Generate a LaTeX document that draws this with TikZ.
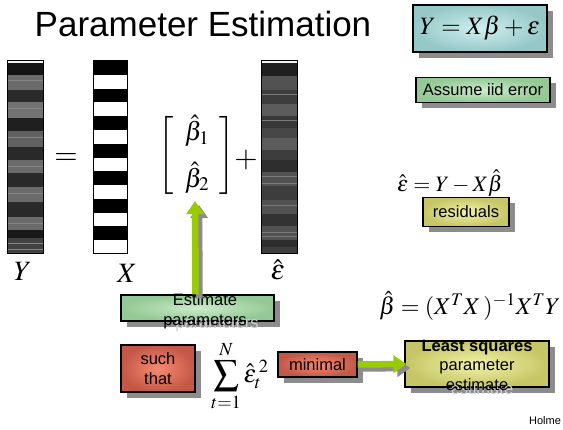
\documentclass[tikz,border=0pt]{standalone}
\usepackage{mathptmx}
\usepackage[no-math]{fontspec}
\setmainfont{Liberation Sans}
\usetikzlibrary{arrows.meta,shadows}
\definecolor{tealin}{HTML}{D0EFEF}
\definecolor{tealout}{HTML}{96C8C8}
\definecolor{grnin}{HTML}{CBEDCB}
\definecolor{grnout}{HTML}{94C894}
\definecolor{yelin}{HTML}{F2F2AA}
\definecolor{yelout}{HTML}{C6C666}
\definecolor{redin}{HTML}{F68A70}
\definecolor{redout}{HTML}{C45848}
\definecolor{limegreen}{HTML}{99CC00}

\begin{document}
\begin{tikzpicture}[x=1pt,y=-1pt,
      slidebox/.style={draw,line width=1.2pt,inner sep=0pt,
                 drop shadow={shadow xshift=6pt,shadow yshift=-6pt,
                              fill=black!45,opacity=1}},
      boxfill/.style 2 args={inner color=#1,outer color=#2},
      lbl/.style={font=\fontsize{16.5}{19.5}\selectfont,align=center},
      txtshadow/.style={lbl,text=black!18,anchor=base},
      eqn/.style={font=\fontsize{#1}{#1}\selectfont,inner sep=0pt},
      garrow/.style={draw=limegreen,line width=6.5pt,
                 -{Triangle[length=13pt,width=17pt]}},
      garrowshade/.style={draw=black!45,line width=6.5pt,
                 -{Triangle[length=13pt,width=17pt]},
                 transform canvas={shift={(4pt,-4pt)}}}]
    \useasboundingbox (0,0) rectangle (563,430);
    % title
    \node[font=\fontsize{35}{40}\selectfont,anchor=base] (title) at (203,37)
      {Parameter Estimation};
    % model box and notes
    \node[slidebox,boxfill={tealin}{tealout},minimum width=134pt,
          minimum height=47pt,eqn=25] (model) at (480,28.5)
      {$Y = X\beta + \varepsilon$};
    \node[slidebox,boxfill={grnin}{grnout},minimum width=134pt,
          minimum height=25pt,lbl] (iid) at (483,90) {Assume iid error};
    \node[eqn=22] (resid) at (450,183)
      {$\hat{\varepsilon} = Y - X\hat{\beta}$};
    \node[slidebox,boxfill={yelin}{yelout},minimum width=86pt,
          minimum height=29pt,lbl] (residbox) at (466,212) {residuals};
    % Y column
    \foreach \ya/\yb/\g in {61/63/5,63/75/92,75/90/58,90/102/84,102/118/55,
        118/131/88,131/147/62,147/160/84,160/173/58,173/187/84,187/202/58,
        202/217/84,217/230/58,230/238/90,238/254/74}
      \fill[black!\g] (7,\ya) rectangle (43,\yb);
    \foreach \y in {80,108,137,166,193,223,243,249}
      \draw[black!48,line width=0.6pt] (7,\y) -- (43,\y);
    \draw[line width=1pt] (7,61) rectangle (43,254);
    % X column
    \draw[line width=1pt] (93,61) rectangle (127,254);
    \foreach \i in {0,2,...,12}
      \fill (93,61+\i*13.79) rectangle (127,61+\i*13.79+13.79);
    % error column
    \foreach \ya/\yb/\g in {61/63/5,63/76/88,76/90/68,90/104/76,104/116/64,
        116/128/78,128/138/72,138/150/64,150/160/76,160/172/82,172/186/68,
        186/200/76,200/214/68,214/226/80,226/240/68,240/247/82,247/254/76}
      \fill[black!\g] (261,\ya) rectangle (297,\yb);
    \foreach \y in {94,120,176,183,205,232,236}
      \draw[black!52,line width=0.6pt] (261,\y) -- (297,\y);
    \draw[line width=1pt] (261,61) rectangle (297,254);
    % equation signs and labels
    \node[eqn=30] (eq) at (66,159) {$=$};
    \node[eqn=30] (plus) at (246,160) {$+$};
    \node[eqn=26] (beta) at (197,155)
      {$\left[\;\begin{array}{c}\hat{\beta}_1\\[14pt]\hat{\beta}_2\end{array}\;\right]$};
    \node[eqn=28] (ylab) at (23,271) {$Y$};
    \node[eqn=28] (xlab) at (127,273) {$X$};
    \node[eqn=28] (elab) at (278,270) {$\hat{\varepsilon}$};
    % estimate box
    \node[slidebox,boxfill={grnin}{grnout},minimum width=153pt,
          minimum height=26pt] (est) at (197.5,308) {};
    \node[txtshadow] (estshade) at (217,329) {parameters};
    \node[lbl] (esttxt) at (205,311) {Estimate\\parameters};
    \draw[garrowshade] ([xshift=-2pt]est.north) -- ([xshift=-2pt,yshift=-6pt]beta.south);
    \draw[garrow] ([xshift=-2pt]est.north) -- ([xshift=-2pt,yshift=-6pt]beta.south);
    % least squares formula
    \node[eqn=24] (lsform) at (470,306)
      {$\hat{\beta} = (X^{T}X\,)^{-1}X^{T}Y$};
    % bottom row
    \node[slidebox,boxfill={redin}{redout},minimum width=74pt,
          minimum height=47pt,lbl] (such) at (158,368.5) {such\\that};
    \node[eqn=25] (sum) at (240,376)
      {$\displaystyle\sum_{t=1}^{N}\hat{\varepsilon}_t^{\,2}$};
    \node[slidebox,boxfill={redin}{redout},minimum width=79pt,
          minimum height=25pt,lbl] (minimal) at (317.5,364.5) {minimal};
    \node[slidebox,boxfill={yelin}{yelout},minimum width=144pt,
          minimum height=46pt] (lsq) at (477,364) {};
    \node[txtshadow] (lsqshade) at (482,395) {estimate};
    \node[lbl] (lsqtxt) at (477,365)
      {\textbf{Least squares}\\parameter\\estimate};
    \draw[garrowshade] (minimal.east) -- ([xshift=2pt]lsq.west);
    \draw[garrow] (minimal.east) -- ([xshift=2pt]lsq.west);
    \node[font=\fontsize{11}{13}\selectfont] (holme) at (545,421) {Holme};
\end{tikzpicture}
\end{document}
